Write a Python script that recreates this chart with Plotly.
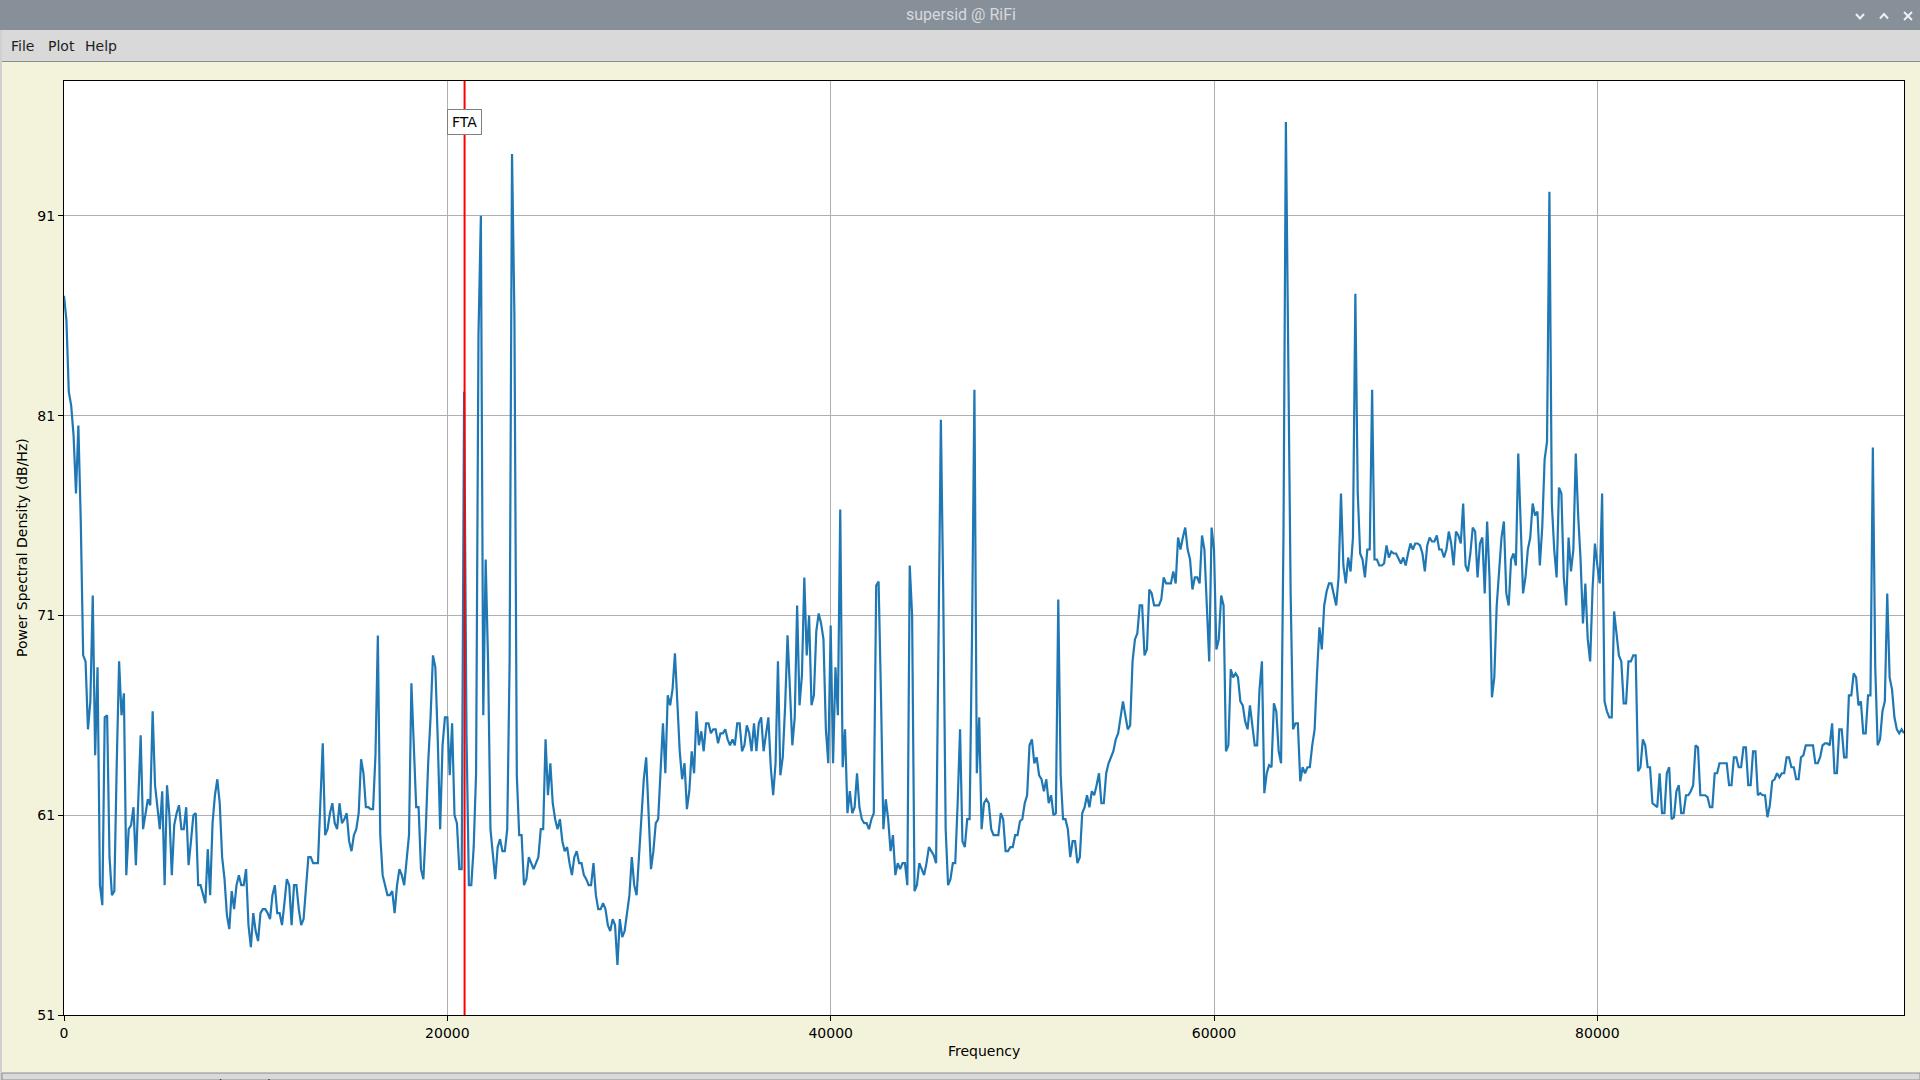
import plotly.graph_objects as go

# PSD from the supersid window, one value every 125 Hz, 0 .. 96 kHz (dB/Hz)
freq_step = 125
psd_db = [
    87.0, 85.8, 82.2, 81.5, 80.0, 77.1, 80.5, 75.7,   # 0 kHz
    69.0, 68.7, 65.3, 66.7, 72.0, 64.0, 68.4, 57.5,
    56.5, 65.9, 66.0, 58.9, 57.0, 57.2, 63.5, 68.7,
    66.0, 67.1, 58.0, 60.3, 60.5, 61.4, 58.5, 61.6,
    65.0, 60.3, 61.0, 61.8, 61.5, 66.2, 62.5, 61.4,
    60.3, 62.2, 57.5, 62.5, 61.0, 58.0, 60.5, 61.1,   # 5 kHz
    61.5, 60.3, 60.3, 61.4, 58.5, 59.7, 61.0, 61.1,
    57.5, 57.5, 57.0, 56.6, 59.3, 57.0, 60.6, 62.0,
    62.8, 61.6, 58.9, 57.8, 56.0, 55.3, 57.2, 56.3,
    57.5, 58.0, 57.5, 57.5, 58.3, 55.5, 54.4, 56.1,
    55.2, 54.7, 56.1, 56.3, 56.3, 56.1, 55.8, 57.0,   # 10 kHz
    57.5, 56.1, 56.1, 55.5, 56.6, 57.8, 57.5, 55.5,
    57.5, 57.5, 56.3, 55.5, 55.8, 57.5, 58.9, 58.9,
    58.6, 58.6, 58.6, 61.6, 64.6, 60.0, 60.3, 61.1,
    61.6, 60.6, 60.3, 61.6, 60.6, 60.8, 61.1, 59.7,
    59.2, 60.0, 60.3, 61.1, 63.8, 63.1, 61.4, 61.4,   # 15 kHz
    61.3, 61.3, 64.0, 70.0, 60.0, 58.0, 57.5, 57.0,
    57.0, 57.2, 56.1, 57.5, 58.3, 58.0, 57.5, 58.9,
    60.0, 67.6, 64.0, 61.4, 61.4, 58.3, 57.8, 60.3,
    63.6, 65.9, 69.0, 68.4, 64.8, 60.3, 64.5, 65.9,
    65.9, 63.0, 65.6, 61.0, 60.6, 58.3, 58.3, 82.2,   # 20 kHz
    65.0, 57.5, 57.5, 59.4, 63.1, 85.0, 91.0, 66.0,
    73.8, 68.7, 60.3, 59.2, 57.8, 59.4, 59.8, 59.2,
    59.2, 60.3, 68.7, 94.1, 86.0, 63.0, 60.0, 60.0,
    57.5, 57.8, 58.9, 58.6, 58.3, 58.6, 58.9, 60.3,
    60.3, 64.8, 62.0, 63.6, 61.6, 60.8, 60.3, 60.8,   # 25 kHz
    59.7, 59.2, 59.4, 58.6, 58.0, 58.9, 59.2, 58.6,
    58.6, 58.0, 57.8, 57.5, 57.5, 58.6, 57.0, 56.3,
    56.3, 56.6, 56.3, 55.5, 55.2, 55.8, 55.5, 53.5,
    55.8, 54.9, 55.2, 56.1, 57.0, 58.9, 57.5, 57.0,
    58.9, 60.8, 62.8, 63.9, 60.8, 58.3, 59.2, 60.6,   # 30 kHz
    60.8, 63.1, 65.6, 63.1, 67.0, 66.5, 67.3, 69.1,
    66.5, 64.2, 62.8, 63.6, 61.3, 62.2, 64.2, 63.1,
    66.2, 64.5, 65.2, 64.2, 65.6, 65.6, 65.1, 65.3,
    65.3, 64.6, 65.1, 65.1, 65.3, 64.8, 64.5, 64.8,
    64.5, 65.6, 65.6, 64.2, 64.5, 65.5, 65.1, 64.2,   # 35 kHz
    65.6, 64.2, 65.6, 65.9, 64.2, 65.1, 65.9, 63.4,
    62.0, 63.6, 68.7, 63.0, 63.9, 66.5, 70.0, 67.3,
    64.5, 65.9, 71.5, 66.5, 68.0, 72.9, 69.0, 71.0,
    66.5, 67.0, 70.2, 71.1, 70.6, 69.8, 65.3, 63.6,
    70.5, 63.6, 68.4, 66.0, 76.3, 63.4, 65.3, 61.1,   # 40 kHz
    62.2, 61.1, 61.4, 63.1, 61.4, 60.8, 60.6, 60.6,
    60.3, 60.8, 61.1, 72.5, 72.7, 67.0, 60.3, 61.8,
    60.8, 59.2, 60.0, 58.0, 58.6, 58.3, 58.6, 58.6,
    57.5, 73.5, 71.0, 57.2, 57.5, 58.6, 58.3, 58.0,
    58.6, 59.4, 59.2, 59.0, 58.6, 68.7, 80.8, 72.0,   # 45 kHz
    60.3, 57.5, 57.8, 58.6, 58.6, 61.6, 65.3, 59.7,
    59.4, 60.8, 60.8, 70.0, 82.3, 63.1, 65.9, 60.3,
    61.6, 61.8, 61.6, 60.3, 60.0, 60.0, 60.0, 61.1,
    60.8, 59.2, 59.2, 59.4, 59.4, 60.0, 60.0, 60.7,
    60.8, 61.6, 62.0, 64.5, 64.8, 63.6, 63.9, 63.0,   # 50 kHz
    62.8, 62.2, 62.8, 61.6, 62.0, 61.0, 61.1, 71.8,
    63.0, 60.8, 60.8, 60.3, 58.9, 59.7, 59.7, 58.6,
    58.9, 61.1, 61.4, 62.0, 61.4, 62.2, 62.0, 62.5,
    63.1, 61.6, 61.6, 63.1, 63.6, 63.9, 64.2, 64.8,
    65.1, 65.9, 66.7, 66.0, 65.3, 65.5, 68.7, 69.8,   # 55 kHz
    70.1, 71.5, 71.5, 69.0, 69.3, 72.3, 72.1, 71.5,
    71.5, 71.5, 71.8, 72.9, 72.6, 72.6, 72.6, 73.2,
    72.6, 74.9, 74.3, 74.9, 75.4, 74.3, 73.8, 72.3,
    72.9, 72.9, 72.6, 75.0, 74.3, 71.5, 68.7, 75.4,
    74.3, 69.3, 69.8, 72.0, 71.5, 64.2, 64.5, 68.3,   # 60 kHz
    67.9, 68.1, 67.9, 66.7, 66.5, 65.7, 65.3, 66.5,
    65.6, 64.5, 64.5, 67.3, 68.7, 62.1, 63.1, 63.5,
    63.4, 66.6, 66.2, 64.2, 63.6, 75.0, 95.7, 84.0,
    72.0, 65.3, 65.6, 65.6, 62.7, 63.4, 63.1, 63.4,
    63.4, 64.5, 65.3, 68.1, 70.4, 69.3, 71.5, 72.2,   # 65 kHz
    72.6, 72.6, 72.1, 71.5, 72.9, 77.1, 73.5, 72.6,
    73.9, 73.2, 74.9, 87.1, 77.1, 74.1, 73.8, 72.9,
    74.3, 74.3, 82.3, 73.8, 73.8, 73.5, 73.5, 73.6,
    74.5, 73.9, 74.2, 74.1, 74.1, 73.8, 73.6, 73.9,
    73.5, 74.1, 74.6, 74.3, 74.6, 74.6, 74.5, 74.1,   # 70 kHz
    73.2, 74.5, 74.9, 74.7, 74.7, 75.0, 74.3, 74.3,
    73.9, 74.3, 75.2, 74.6, 73.5, 75.2, 75.0, 74.6,
    76.6, 73.5, 73.2, 74.1, 75.4, 75.2, 72.9, 74.6,
    74.9, 72.1, 75.7, 72.9, 66.9, 67.9, 71.5, 73.2,
    74.9, 75.7, 72.1, 71.5, 73.8, 74.1, 73.5, 79.1,   # 75 kHz
    76.0, 72.1, 72.9, 74.3, 74.9, 76.6, 76.0, 76.2,
    73.5, 75.4, 78.8, 79.7, 92.2, 76.6, 74.3, 72.9,
    77.4, 77.1, 72.9, 71.5, 74.9, 73.2, 74.3, 79.1,
    76.0, 73.8, 70.6, 72.6, 69.8, 68.7, 72.3, 74.6,
    73.5, 72.6, 77.1, 66.7, 66.2, 65.9, 65.9, 71.2,   # 80 kHz
    70.1, 69.0, 68.7, 66.6, 66.6, 68.7, 68.7, 69.0,
    69.0, 63.2, 63.4, 64.8, 64.5, 63.4, 63.4, 61.6,
    61.5, 61.4, 63.1, 61.1, 61.1, 63.1, 63.4, 60.8,
    60.9, 62.2, 62.5, 61.1, 61.1, 62.0, 62.0, 62.2,
    62.5, 64.5, 64.4, 62.0, 62.0, 62.0, 61.9, 61.4,   # 85 kHz
    61.4, 63.1, 63.1, 63.6, 63.6, 63.6, 63.6, 62.5,
    62.5, 63.9, 63.9, 63.4, 63.4, 64.4, 64.4, 62.5,
    62.5, 64.2, 64.2, 62.0, 62.1, 62.0, 62.0, 60.9,
    61.5, 62.7, 62.8, 63.1, 62.9, 63.1, 63.1, 63.9,
    63.9, 63.4, 63.4, 62.8, 62.8, 63.9, 64.0, 64.5,   # 90 kHz
    64.5, 64.5, 64.5, 63.6, 63.6, 63.9, 64.5, 64.6,
    64.6, 64.5, 65.6, 63.1, 63.1, 65.3, 65.3, 63.9,
    63.9, 67.0, 67.0, 68.1, 67.9, 66.5, 66.7, 65.1,
    65.1, 67.0, 67.0, 79.4, 68.4, 64.5, 64.8, 66.2,
    66.7, 72.1, 67.9, 67.3, 65.9, 65.3, 65.1, 65.3,   # 95 kHz
    65.1,
]

station = "FTA"
station_freq = 20900
x_ticks = [0, 20000, 40000, 60000, 80000]
y_ticks = [51, 61, 71, 81, 91]

# screen layout of the window (pixels on a 1920x1080 screen)
W, H = 1920, 1080
L, R, T, B = 64, 1904, 81, 1015


def px(x):
    return (x - L) / (R - L)


def py(y):
    return (B - y) / (B - T)


def rect(x0, y0, x1, y1, fill, line=None):
    return dict(type="rect", xref="paper", yref="paper",
                x0=px(x0), x1=px(x1), y0=py(y0), y1=py(y1),
                fillcolor=fill, line=dict(width=1 if line else 0, color=line or fill),
                layer="above")


def poly(points, colour):
    path = "M " + " L ".join(f"{px(a):.5f},{py(b):.5f}" for a, b in points)
    return dict(type="path", xref="paper", yref="paper", path=path,
                line=dict(color=colour, width=2), layer="above")


def label(text, x, y, size=14, xanchor="center", **kw):
    return dict(text=text, x=x, y=y, xref="paper", yref="paper", showarrow=False,
                xanchor=xanchor, yanchor=kw.pop("yanchor", "middle"),
                font=dict(family=kw.pop("family", "DejaVu Sans"), size=size,
                          color=kw.pop("color", "#1e1e1e")), **kw)


shapes = [
    rect(0, 0, W, 30, "#878f99"),                 # title bar
    rect(0, 30, W, 61, "#d9d9d9"),                # menu bar
    rect(0, 61, W, 62, "#8c8c8c"),
    rect(0, 30, 2, H, "#d0d0d0"),                 # window left border
    rect(2, 1073, W, H, "#d9d9d9", "#8c8c8c"),    # status bar
    poly([(1856, 14), (1860, 18.5), (1864, 14)], "#eef0f2"),
    poly([(1880, 18.5), (1884, 14), (1888, 18.5)], "#eef0f2"),
    poly([(1904, 12), (1912, 20)], "#eef0f2"),
    poly([(1912, 12), (1904, 20)], "#eef0f2"),
    dict(type="line", xref="x", yref="paper", x0=station_freq, x1=station_freq,
         y0=0, y1=1, line=dict(color="red", width=2), layer="above"),
]

annotations = [
    label("supersid @ RiFi", px(961), py(15), size=16, family="Roboto", color="#d6dadf"),
    label("File", px(9), py(46), xanchor="left"),
    label("Plot", px(46), py(46), xanchor="left"),
    label("Help", px(83), py(46), xanchor="left"),
    label("2022-04-06 21:06:55.000793 (15000) FTA: 11331.4557.212343",
          px(4), py(1075), xanchor="left", yanchor="top"),
    label("Frequency", 0.5, py(1051), color="black"),
    label("Power Spectral Density (dB/Hz)", px(22), 0.5, color="black", textangle=-90),
    dict(text=station, x=station_freq, y=95.69, xref="x", yref="y", showarrow=False,
         bgcolor="white", bordercolor="#808080", borderwidth=1, borderpad=4,
         font=dict(family="DejaVu Sans", size=14, color="black")),
]

axis_style = dict(
    showgrid=True, gridcolor="#b0b0b0", gridwidth=1, zeroline=False,
    showline=True, linecolor="black", linewidth=1.2, mirror=True,
    ticks="outside", ticklen=5, tickcolor="black",
    tickfont=dict(family="DejaVu Sans", size=14, color="black"),
)

layout = go.Layout(
    width=W, height=H,
    margin=dict(l=L, r=W - R, t=T, b=H - B),
    paper_bgcolor="#f3f3dc", plot_bgcolor="white",
    showlegend=False,
    xaxis=dict(range=[0, 96000], tickvals=x_ticks, tickformat="d", **axis_style),
    yaxis=dict(range=[51, 97.75], tickvals=y_ticks, **axis_style),
    shapes=shapes,
    annotations=annotations,
)

fig = go.Figure(layout=layout)
fig.add_trace(go.Scatter(
    x0=0, dx=freq_step, y=psd_db, mode="lines",
    line=dict(color="#1f77b4", width=2.2), hoverinfo="skip",
))

fig.write_html("out.html", config={"displayModeBar": False},
               post_script="document.body.style.margin='0';document.body.style.overflow='hidden';")
